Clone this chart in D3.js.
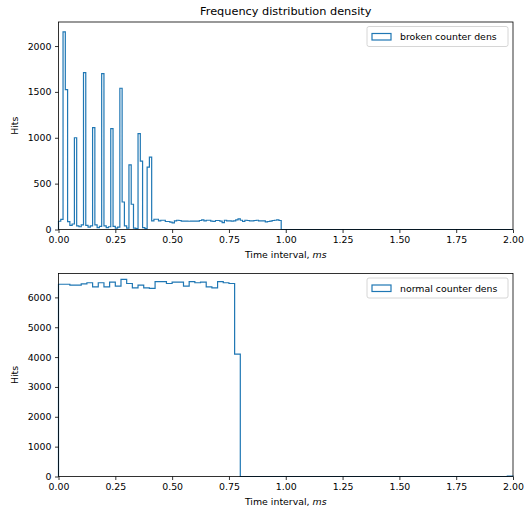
<!DOCTYPE html>
<html>
<head>
<meta charset="utf-8">
<script src="https://cdn.jsdelivr.net/npm/d3@7"></script>
<style>
  body { margin: 0; background: #fff; }
  text { font-family: "DejaVu Sans", sans-serif; fill: #000; }
</style>
</head>
<body>
<div id="vis"></div>
<script>
// ---- data ----
// broken counter: bin width 0.01 ms, counts of the first 98 bins (rest are 0 up to 2 ms)
var brokenBinWidth = 0.01;
var brokenCounts = [
    90, 110, 2155, 1525, 85, 45, 60, 1000, 40, 30,
    50, 1710, 45, 25, 40, 1110, 50, 20, 35, 1700,
    40, 20, 30, 1100, 35, 15, 25, 1540, 300, 40,
    15, 705, 275, 15, 10, 1045, 745, 20, 10, 680,
    790, 94, 112, 112, 94, 101, 101, 87, 87, 80,
    72, 94, 101, 98, 91, 91, 91, 90, 91, 92,
    91, 91, 98, 105, 94, 101, 101, 91, 87, 98,
    98, 91, 76, 101, 94, 94, 91, 94, 105, 116,
    101, 87, 101, 98, 94, 94, 98, 101, 94, 94,
    94, 83, 87, 91, 98, 101, 105, 98
];

// normal counter: bin width 0.025 ms, 80 bins over 0..2 ms
var normalBinWidth = 0.025;
var normalCounts = [
    6440, 6440, 6410, 6410, 6450, 6490, 6350, 6490, 6350, 6510,
    6375, 6600, 6465, 6320, 6410, 6320, 6300, 6530, 6530, 6465,
    6510, 6510, 6375, 6530, 6490, 6510, 6350, 6320, 6530, 6490,
    6465, 4100, 0, 0, 0, 0, 0, 0, 0, 0,
    0, 0, 0, 0, 0, 0, 0, 0, 0, 0,
    0, 0, 0, 0, 0, 0, 0, 0, 0, 0,
    0, 0, 0, 0, 0, 0, 0, 0, 0, 0,
    0, 0, 0, 0, 0, 0, 0, 0, 0, 15
];

var xTicks = [0, 0.25, 0.5, 0.75, 1.0, 1.25, 1.5, 1.75, 2.0];
var brokenYTicks = [0, 500, 1000, 1500, 2000];
var normalYTicks = [0, 1000, 2000, 3000, 4000, 5000, 6000];

var titleText = "Frequency distribution density";
var brokenLabel = "broken counter dens";
var normalLabel = "normal counter dens";

// ---- layout ----
var width = 527, height = 510;
var left = 58.5, right = 513;
var color = "#1f77b4";

var svg = d3.select("#vis")
    .append("svg")
    .attr("width", width)
    .attr("height", height);

var x = d3.scaleLinear()
    .domain([0, 2])
    .range([left, right]);

function toSteps(counts, binWidth, nBins) {
    var pts = [[0, 0]];
    for (var i = 0; i < nBins; i++) {
        var v = i < counts.length ? counts[i] : 0;
        pts.push([i * binWidth, v]);
        pts.push([(i + 1) * binWidth, v]);
    }
    pts.push([nBins * binWidth, 0]);
    return pts;
}

function drawPanel(cfg) {
    var y = d3.scaleLinear()
        .domain([0, cfg.yMax])
        .range([cfg.bottom, cfg.top]);

    var g = svg.append("g");

    // histogram outline
    var line = d3.line()
        .x(function (d) { return x(d[0]); })
        .y(function (d) { return y(d[1]); });

    g.append("path")
        .datum(toSteps(cfg.counts, cfg.binWidth, Math.round(2 / cfg.binWidth)))
        .attr("d", line)
        .attr("fill", "none")
        .attr("stroke", color)
        .attr("stroke-width", 1.2)
        .attr("stroke-linejoin", "miter");

    // axes
    var xAxis = g.append("g")
        .attr("transform", "translate(0," + cfg.bottom + ")")
        .call(d3.axisBottom(x)
            .tickValues(xTicks)
            .tickFormat(d3.format(".2f"))
            .tickSize(3.5)
            .tickPadding(3.5));

    var yAxis = g.append("g")
        .attr("transform", "translate(" + left + ",0)")
        .call(d3.axisLeft(y)
            .tickValues(cfg.yTicks)
            .tickFormat(d3.format("d"))
            .tickSize(3.5)
            .tickPadding(3.5));

    [xAxis, yAxis].forEach(function (a) {
        a.select(".domain").remove();
        a.selectAll("line").attr("stroke", "#000").attr("stroke-width", 0.8);
        a.selectAll("text")
            .style("font-family", "DejaVu Sans")
            .style("font-size", "9.4px")
            .attr("fill", "#000");
    });

    // spines
    g.append("rect")
        .attr("x", left)
        .attr("y", cfg.top)
        .attr("width", right - left)
        .attr("height", cfg.bottom - cfg.top)
        .attr("fill", "none")
        .attr("stroke", "#000")
        .attr("stroke-width", 0.8);

    // x label
    var xl = g.append("text")
        .attr("x", (left + right) / 2)
        .attr("y", cfg.bottom + 28)
        .attr("text-anchor", "middle")
        .style("font-size", "9.4px");
    xl.append("tspan").text("Time interval, ");
    xl.append("tspan").style("font-style", "italic").text("ms");

    // y label
    g.append("text")
        .attr("transform", "translate(18," + ((cfg.top + cfg.bottom) / 2) + ") rotate(-90)")
        .attr("text-anchor", "middle")
        .style("font-size", "9.4px")
        .text("Hits");

    // legend
    var lg = g.append("g")
        .attr("transform", "translate(" + (right - 146) + "," + (cfg.top + 4.5) + ")");
    lg.append("rect")
        .attr("width", 141)
        .attr("height", 20)
        .attr("rx", 2)
        .attr("fill", "#fff")
        .attr("fill-opacity", 0.8)
        .attr("stroke", "#ccc")
        .attr("stroke-width", 0.8);
    lg.append("rect")
        .attr("x", 5)
        .attr("y", 7)
        .attr("width", 19)
        .attr("height", 6.5)
        .attr("fill", "none")
        .attr("stroke", color)
        .attr("stroke-width", 1.2);
    lg.append("text")
        .attr("x", 33)
        .attr("y", 13.5)
        .style("font-size", "9.4px")
        .text(cfg.label);
}

drawPanel({
    counts: brokenCounts,
    binWidth: brokenBinWidth,
    yMax: 2262,
    yTicks: brokenYTicks,
    top: 22,
    bottom: 229.5,
    label: brokenLabel
});

drawPanel({
    counts: normalCounts,
    binWidth: normalBinWidth,
    yMax: 6800,
    yTicks: normalYTicks,
    top: 273.5,
    bottom: 476.5,
    label: normalLabel
});

// title
svg.append("text")
    .attr("x", (left + right) / 2)
    .attr("y", 15)
    .attr("text-anchor", "middle")
    .style("font-size", "11.3px")
    .text(titleText);
</script>
</body>
</html>
